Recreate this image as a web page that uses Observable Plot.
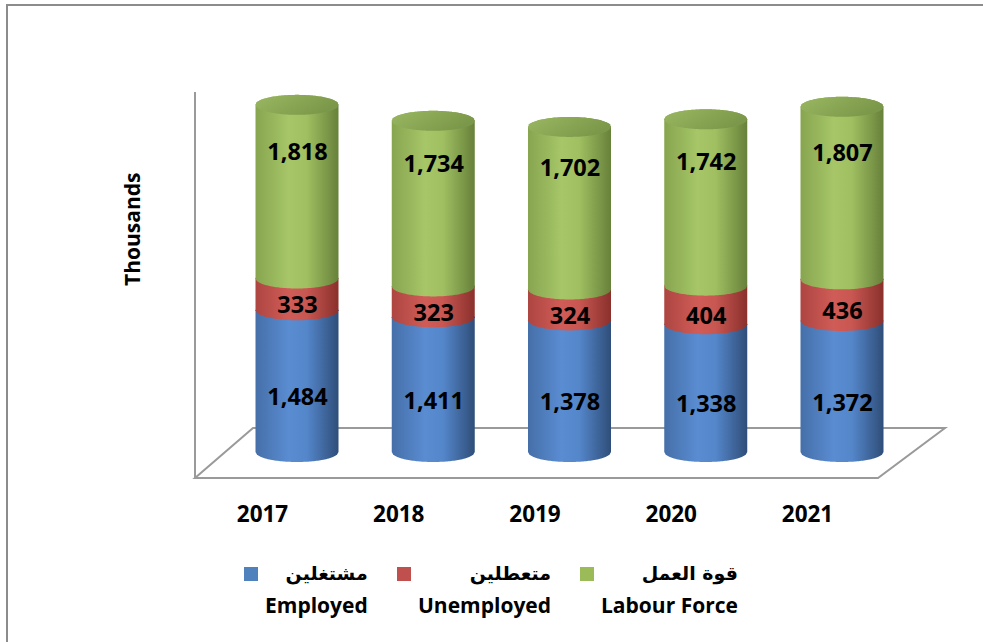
<!DOCTYPE html>
<html><head><meta charset="utf-8">
<script src="https://cdn.jsdelivr.net/npm/d3@7"></script>
<script src="https://cdn.jsdelivr.net/npm/@observablehq/plot@0.6"></script>
<style>
body{margin:0;background:#fff;}
#wrap{position:relative;width:983px;height:642px;overflow:hidden;font-family:"Open Sans",sans-serif;background:#fff;}
#frame{position:absolute;left:6px;top:4px;width:1000px;height:700px;border-top:2px solid #8c8c8c;border-left:2px solid #8c8c8c;}
#chart{position:absolute;left:0;top:0;}
.item{position:absolute;top:557px;}
.sw{position:absolute;left:0;top:10px;width:14px;height:14px;}
.col{position:absolute;left:21px;top:0;display:inline-block;white-space:nowrap;font-weight:bold;font-size:21px;line-height:32px;color:#000;}
.ar{text-align:right;direction:rtl;font-family:"DejaVu Sans","Noto Sans",sans-serif;font-size:19px;}
.en{text-align:left;}
</style>
</head><body>
<div id="wrap"><div id="frame"></div><div id="chart"></div></div>
<script>
const years = [2017, 2018, 2019, 2020, 2021];
const employed = [1484, 1411, 1378, 1338, 1372];
const unemployed = [333, 323, 324, 404, 436];
const labourForce = [1818, 1734, 1702, 1742, 1807];
const seriesEn = ["Employed", "Unemployed", "Labour Force"];
const seriesAr = ["مشتغلين", "متعطلين", "قوة العمل"];
const seriesColors = ["#4f81bd", "#c0504d", "#9bbb59"];

const seriesValues = [employed, unemployed, labourForce];
const gradIds = ["g-emp", "g-unemp", "g-lab"];
const labelDy = [16, 11, -40];

// scale constants (px)
const pxPerUnit = 0.0955;
const baseY = 452;
const rxPx = 41.5, ryPx = 10;
const rxYears = rxPx / 136.25;
const ryUnits = ryPx / pxPerUnit;

// build stacked segments
const segments = [];
years.forEach((yr, j) => {
  let lo = 0;
  seriesValues.forEach((vals, i) => {
    const v = vals[j];
    segments.push({year: yr, series: i, value: v, lo, hi: lo + v});
    lo += v;
  });
});
const N = 60;
function cylPoints(seg) {
  const pts = [];
  for (let k = 0; k <= N; k++) {
    const u = -1 + 2 * k / N;
    const s = Math.sqrt(Math.max(0, 1 - u * u));
    pts.push({year: seg.year, x: seg.year + rxYears * u, y1: seg.lo - ryUnits * s, y2: seg.hi + ryUnits * s});
  }
  return pts;
}
function capPoints(seg) {
  const pts = [];
  for (let k = 0; k <= N; k++) {
    const u = -1 + 2 * k / N;
    const s = Math.sqrt(Math.max(0, 1 - u * u));
    pts.push({year: seg.year, x: seg.year + rxYears * u, y1: seg.hi - ryUnits * s, y2: seg.hi + ryUnits * s});
  }
  return pts;
}
const fmt = d3.format(",");

const marks = [];
[0, 1, 2].forEach(i => {
  const pts = segments.filter(s => s.series === i).flatMap(cylPoints);
  marks.push(Plot.areaY(pts, {x: "x", y1: "y1", y2: "y2", z: "year", fill: `url(#${gradIds[i]})`, curve: "linear"}));
});
const tops = segments.filter(s => s.series === 2);
marks.push(Plot.areaY(tops.flatMap(capPoints), {x: "x", y1: "y1", y2: "y2", z: "year", fill: "url(#g-cap)", curve: "linear"}));
[0, 1, 2].forEach(i => {
  marks.push(Plot.text(segments.filter(s => s.series === i), {
    x: "year", y: d => (d.lo + d.hi) / 2, dy: labelDy[i], text: d => fmt(d.value),
    fontSize: 23.5, fontWeight: "bold", fill: "#000"
  }));
});
marks.push(Plot.text(years, {x: d => d, y: () => 0, dx: -35, dy: 62, text: d => String(d), fontSize: 22.5, fontWeight: "bold", fill: "#000"}));
marks.push(Plot.text(["Thousands"], {frameAnchor: "left", dx: 133, dy: 13, rotate: -90, fontSize: 21, fontWeight: "bold", fill: "#000"}));

const chart = Plot.plot({
  width: 983, height: 545,
  marginTop: 0, marginRight: 0, marginBottom: 0, marginLeft: 0,
  x: {type: "linear", domain: [years[0], years[years.length - 1]], range: [297, 842], axis: null},
  y: {type: "linear", domain: [0, 4000], range: [baseY, baseY - 4000 * pxPerUnit], axis: null},
  style: {fontFamily: "'Open Sans', sans-serif", background: "transparent", overflow: "visible"},
  marks
});

// gradients
const svg = d3.select(chart);
const defs = svg.insert("defs", ":first-child");
function grad(id, stops, x2 = "100%", y2 = "0%") {
  const g = defs.append("linearGradient").attr("id", id).attr("x1", "0%").attr("y1", "0%").attr("x2", x2).attr("y2", y2);
  stops.forEach(([o, c]) => g.append("stop").attr("offset", o).attr("stop-color", c));
}
grad("g-emp", [["0%", "#456fa8"], ["40%", "#5a8cd2"], ["62%", "#5486ca"], ["100%", "#2f4e79"]]);
grad("g-unemp", [["0%", "#ad4541"], ["40%", "#d05c57"], ["62%", "#c85651"], ["100%", "#8a302c"]]);
grad("g-lab", [["0%", "#87a54f"], ["40%", "#a6c668"], ["62%", "#9fbf61"], ["100%", "#67813a"]]);
grad("g-cap", [["0%", "#9ab862"], ["100%", "#7b9749"]], "100%", "40%");

// floor and wall using the plot's scales
const X = chart.scale("x").apply, Y = chart.scale("y").apply;
const fl = X(years[0]) - 102, fr = X(years[years.length - 1]) + 36;
const fy = Y(0) + 26, depthY = -50;
const floor = svg.insert("g", "g").attr("fill", "none").attr("stroke", "#9a9a9a").attr("stroke-width", 2);
floor.append("path").attr("d", `M${fl},${fy}L${fr},${fy}L${fr + 67},${fy + depthY}L${fl + 58},${fy + depthY}Z`);
floor.append("path").attr("d", `M${fl},${fy}L${fl},${Y(0) - 360}`);

document.getElementById("chart").appendChild(chart);

// legend
const legendLeft = [244, 397, 580];
const wrap = document.getElementById("wrap");
seriesEn.forEach((en, i) => {
  const item = document.createElement("div");
  item.className = "item";
  item.style.left = legendLeft[i] + "px";
  item.innerHTML = `<div class="sw" style="background:${seriesColors[i]}"></div><div class="col"><div class="ar">${seriesAr[i]}</div><div class="en">${en}</div></div>`;
  wrap.appendChild(item);
});
</script>
</body></html>
